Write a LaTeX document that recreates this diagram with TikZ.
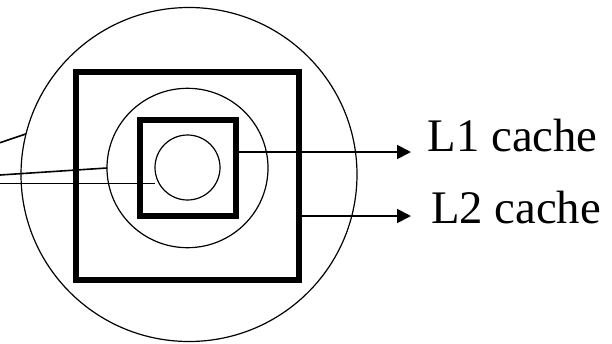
\documentclass[tikz,border=0pt]{standalone}
\usepackage{fontspec}
\setmainfont{Liberation Serif}
\usetikzlibrary{shapes.geometric,arrows.meta,calc}
\begin{document}
\begin{tikzpicture}[x=1pt,y=-1pt,
  thinring/.style={draw,ellipse,line width=1.2pt,inner sep=0pt,outer sep=0pt},
  thickbox/.style={draw,rectangle,line width=6pt,inner sep=0pt,outer sep=0pt},
  feed/.style={line width=1.6pt},
  pointer/.style={line width=1.8pt,-{Triangle[length=14pt,width=14pt]}},
  lbl/.style={anchor=base west,inner sep=0pt,font=\fontsize{46.7}{56}\selectfont}]
\useasboundingbox (0,0) rectangle (612,343);
\node[thinring,minimum width=336pt,minimum height=334pt] (outer) at (189,174.5) {};
\node[thickbox,minimum width=223.3pt,minimum height=207.7pt] (bigsq) at (187.35,175.85) {};
\node[thinring,minimum width=161pt,minimum height=159.4pt] (mid) at (187.5,168) {};
\node[thickbox,minimum width=95.7pt,minimum height=96pt] (smallsq) at (187.85,167.7) {};
\node[thinring,minimum width=65pt,minimum height=65pt] (inner) at (187.5,167.5) {};
% labels
\node[lbl] (l1) at (427.5,151.5) {L1 cache};
\node[lbl] (l2) at (431,223) {L2 cache};
\coordinate (l1tip) at (411,152);
\coordinate (l2tip) at (411,216);
\draw[pointer] ($(smallsq.east |- l1tip)+(-3,0)$) -- (l1tip);
\draw[pointer] ($(bigsq.east |- l2tip)+(-3,0)$) -- (l2tip);
% free lines at left
\coordinate (f1) at (0,142.7);
\coordinate (f2) at (0,175);
\coordinate (f3) at (0,183.3);
\draw[feed] (f1) -- (outer.166.4);
\draw[feed] (f2) -- (mid.west);
\draw[feed] (f3) -- (f3 -| inner.west);
\end{tikzpicture}
\end{document}
